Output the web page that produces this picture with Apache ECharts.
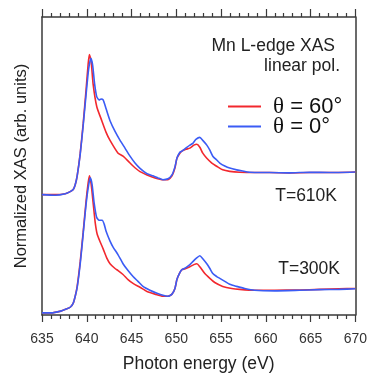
<!DOCTYPE html>
<html>
<head>
<meta charset="utf-8">
<script src="https://cdn.jsdelivr.net/npm/echarts@6/dist/echarts.min.js"></script>
<style>
  html, body { margin: 0; padding: 0; background: #fff; }
  #chart { width: 370px; height: 378px; }
</style>
</head>
<body>
<div id="chart"></div>
<script>
// energy axis (eV)
const xTicks = [635, 640, 645, 650, 655, 660, 665, 670]

// T = 610K, theta = 60 deg (red)
const e610Red = [635, 636.5, 637.6, 638.15, 638.49, 638.71, 638.93, 639.27, 639.6, 639.93, 640.16, 640.3, 640.49, 640.71, 641.12, 641.68, 642.16, 642.6, 643.5, 644.05, 644.61, 645.17, 645.95, 646.73, 647.62, 648.51, 649.07, 649.52, 649.85, 650.07, 650.4, 650.63, 651.07, 651.52, 651.96, 652.3, 652.63, 652.96, 653.41, 653.97, 654.63, 655.19, 655.97, 657.08, 658.75, 660.42, 662.65, 664.88, 667.1, 670]
const xas610Red = [4.04, 4.04, 4.07, 4.14, 4.21, 4.37, 4.67, 5.43, 6.42, 7.58, 8.44, 8.74, 8.51, 7.75, 6.99, 6.52, 6.13, 5.86, 5.43, 5.33, 5.17, 5.0, 4.81, 4.70, 4.60, 4.54, 4.54, 4.67, 4.93, 5.26, 5.43, 5.50, 5.56, 5.60, 5.70, 5.73, 5.63, 5.43, 5.26, 5.10, 4.97, 4.87, 4.82, 4.79, 4.78, 4.78, 4.77, 4.78, 4.78, 4.80]

// T = 610K, theta = 0 deg (blue)
const e610Blue = [635, 636.5, 637.6, 638.15, 638.49, 638.71, 638.93, 639.27, 639.6, 639.93, 640.21, 640.46, 640.66, 640.88, 641.12, 641.38, 641.6, 641.83, 642.16, 642.6, 643.16, 643.72, 644.27, 644.83, 645.39, 645.95, 646.73, 647.4, 647.96, 648.51, 649.07, 649.52, 649.85, 650.07, 650.4, 650.63, 651.07, 651.52, 651.85, 652.19, 652.63, 652.96, 653.41, 653.75, 654.08, 654.52, 654.86, 655.42, 655.97, 656.75, 657.42, 658.2, 660.4, 662.6, 664.9, 667.1, 670]
const xas610Blue = [4.04, 4.02, 4.07, 4.14, 4.21, 4.37, 4.67, 5.40, 6.36, 7.42, 8.25, 8.61, 8.38, 7.75, 7.32, 7.22, 7.25, 7.22, 6.92, 6.52, 6.16, 5.86, 5.60, 5.33, 5.10, 4.92, 4.74, 4.67, 4.60, 4.54, 4.57, 4.70, 4.97, 5.26, 5.46, 5.50, 5.60, 5.70, 5.76, 5.89, 5.96, 5.86, 5.70, 5.53, 5.33, 5.20, 5.10, 5.00, 4.93, 4.87, 4.83, 4.79, 4.78, 4.77, 4.79, 4.78, 4.80]

// T = 300K, theta = 60 deg (red)
const e300Red = [635, 636, 637.1, 637.7, 638.15, 638.49, 638.71, 638.93, 639.27, 639.6, 639.93, 640.16, 640.3, 640.49, 640.71, 640.94, 641.16, 641.5, 641.83, 642.27, 642.6, 643.16, 643.5, 644.05, 644.61, 645.17, 645.95, 646.73, 647.62, 648.51, 649.07, 649.52, 649.85, 650.07, 650.4, 650.63, 651.07, 651.52, 651.96, 652.3, 652.63, 653.19, 653.75, 654.3, 655.19, 656.2, 657.08, 658.75, 660.98, 663.76, 666, 668.2, 670]
const xas300Red = [0.07, 0.07, 0.13, 0.20, 0.26, 0.40, 0.63, 0.96, 1.79, 2.78, 3.84, 4.44, 4.67, 4.40, 3.77, 3.11, 2.72, 2.45, 2.22, 1.89, 1.72, 1.56, 1.49, 1.36, 1.19, 1.06, 0.93, 0.79, 0.70, 0.63, 0.63, 0.70, 0.89, 1.19, 1.42, 1.52, 1.56, 1.62, 1.69, 1.72, 1.62, 1.39, 1.23, 1.09, 0.96, 0.89, 0.86, 0.83, 0.83, 0.84, 0.86, 0.88, 0.89]

// T = 300K, theta = 0 deg (blue)
const e300Blue = [635, 636, 637.1, 637.7, 638.15, 638.49, 638.71, 638.93, 639.27, 639.6, 639.93, 640.21, 640.4, 640.6, 640.82, 641.1, 641.38, 641.72, 641.94, 642.16, 642.6, 642.94, 643.5, 644.05, 644.61, 645.17, 645.72, 646.28, 647.06, 647.84, 648.51, 649.07, 649.52, 649.85, 650.07, 650.4, 650.63, 651.07, 651.52, 651.85, 652.19, 652.63, 652.96, 653.41, 653.75, 654.08, 654.52, 654.86, 655.42, 655.97, 656.75, 657.64, 658.75, 660.98, 663.76, 666, 668.2, 670]
const xas300Blue = [0.07, 0.07, 0.13, 0.20, 0.26, 0.40, 0.63, 0.93, 1.72, 2.72, 3.74, 4.37, 4.60, 4.37, 3.77, 3.28, 3.18, 3.18, 3.05, 2.81, 2.48, 2.28, 2.02, 1.72, 1.49, 1.29, 1.13, 0.96, 0.83, 0.73, 0.66, 0.63, 0.70, 0.89, 1.19, 1.42, 1.52, 1.59, 1.69, 1.79, 1.89, 1.99, 1.89, 1.72, 1.56, 1.39, 1.29, 1.23, 1.13, 1.03, 0.96, 0.89, 0.83, 0.81, 0.83, 0.85, 0.86, 0.88]

const RED = '#f2282e'
const BLUE = '#3b5cf5'
const FONT = 'Liberation Sans'
const INK = '#3a3a3a'

const zip = (xs, ys) => xs.map((x, i) => [x, ys[i]])

const lineSeries = (name, color, xs, ys) => ({
  name,
  type: 'line',
  data: zip(xs, ys),
  showSymbol: false,
  symbol: 'none',
  smooth: 0.2,
  animation: false,
  lineStyle: { color, width: 1.6 },
  itemStyle: { color },
})

const chart = echarts.init(document.getElementById('chart'), null, { renderer: 'canvas' })

const axisLine = { show: true, onZero: false, lineStyle: { color: INK, width: 1.5 } }

// legend label: serif theta, sans rest
const legendText = {
  color: '#111',
  fontFamily: FONT,
  fontSize: 22,
  lineHeight: 22,
  padding: [0, 0, 0, 7],
  rich: {
    t: { fontFamily: 'Liberation Serif', fontSize: 23, color: '#111', lineHeight: 22 },
  },
}
const legendFmt = (name) => name.replace('θ', '{t|θ}')

chart.setOption({
  backgroundColor: '#fff',
  animation: false,
  grid: { left: 42, right: 14, top: 17, bottom: 59, show: false },
  xAxis: [
    {
      type: 'value',
      min: 635,
      max: 670,
      interval: 5,
      position: 'bottom',
      axisLine,
      axisTick: { show: true, length: 7, lineStyle: { color: INK, width: 1.2 } },
      minorTick: { show: true, splitNumber: 5, length: 4, lineStyle: { color: INK, width: 1.2 } },
      splitLine: { show: false },
      axisLabel: {
        color: '#333',
        fontFamily: FONT,
        fontSize: 14,
        margin: 17,
        customValues: xTicks,
      },
      name: 'Photon energy (eV)',
      nameLocation: 'middle',
      nameGap: 40,
      nameTextStyle: { color: '#222', fontFamily: FONT, fontSize: 17.5 },
    },
    {
      type: 'value',
      min: 635,
      max: 670,
      interval: 5,
      position: 'top',
      axisLine,
      axisTick: { show: true, length: 8, lineStyle: { color: INK, width: 1.2 } },
      minorTick: { show: true, splitNumber: 5, length: 4, lineStyle: { color: INK, width: 1.2 } },
      splitLine: { show: false },
      axisLabel: { show: false },
    },
  ],
  yAxis: [
    {
      type: 'value',
      min: 0,
      max: 10,
      position: 'left',
      axisLine,
      axisTick: { show: false },
      axisLabel: { show: false },
      splitLine: { show: false },
      name: 'Normalized XAS (arb. units)',
      nameLocation: 'middle',
      nameGap: 12,
      nameRotate: 90,
      nameTextStyle: { color: '#222', fontFamily: FONT, fontSize: 16.5 },
    },
    {
      type: 'value',
      min: 0,
      max: 10,
      position: 'right',
      axisLine,
      axisTick: { show: false },
      axisLabel: { show: false },
      splitLine: { show: false },
    },
  ],
  legend: [
    {
      data: ['θ = 60°'],
      left: 228,
      top: 95,
      padding: 0,
      icon: 'rect',
      itemWidth: 33,
      itemHeight: 2,
      formatter: legendFmt,
      textStyle: legendText,
    },
    {
      data: ['θ = 0°'],
      left: 228,
      top: 115,
      padding: 0,
      icon: 'rect',
      itemWidth: 33,
      itemHeight: 2,
      formatter: legendFmt,
      textStyle: legendText,
    },
  ],
  graphic: [
    { type: 'text', right: 35, top: 37, style: { text: 'Mn L-edge XAS', fill: '#222', font: '17.5px "Liberation Sans"' } },
    { type: 'text', right: 30, top: 57, style: { text: 'linear pol.', fill: '#222', font: '17.5px "Liberation Sans"' } },
    { type: 'text', right: 33, top: 187, style: { text: 'T=610K', fill: '#222', font: '17.5px "Liberation Sans"' } },
    { type: 'text', right: 30, top: 260, style: { text: 'T=300K', fill: '#222', font: '17.5px "Liberation Sans"' } },
  ],
  series: [
    lineSeries('θ = 60°', RED, e610Red, xas610Red),
    lineSeries('θ = 0°', BLUE, e610Blue, xas610Blue),
    lineSeries('θ = 60°', RED, e300Red, xas300Red),
    lineSeries('θ = 0°', BLUE, e300Blue, xas300Blue),
  ],
})
</script>
</body>
</html>
